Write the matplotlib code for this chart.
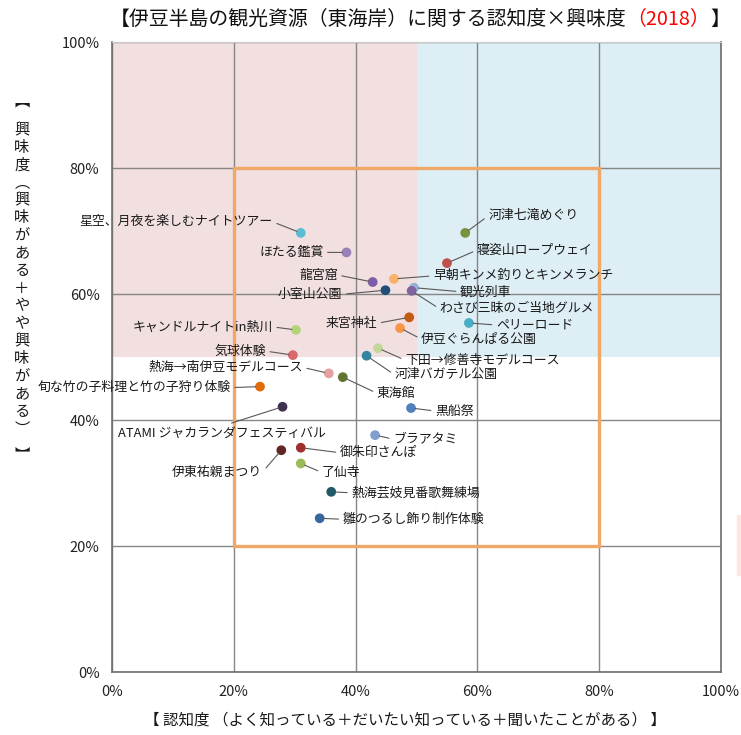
import matplotlib.pyplot as plt
from matplotlib.patches import Rectangle

plt.rcParams['font.family'] = ['Noto Sans CJK JP', 'DejaVu Sans']

# データ（認知度・興味度 %）
names = ['星空、月夜を楽しむナイトツアー', 'ほたる鑑賞', '河津七滝めぐり', '寝姿山ロープウェイ',
         '龍宮窟', '早朝キンメ釣りとキンメランチ', '小室山公園', '観光列車',
         'わさび三昧のご当地グルメ', '来宮神社', 'ペリーロード', 'キャンドルナイトin熱川',
         '伊豆ぐらんぱる公園', '気球体験', '下田→修善寺モデルコース', '河津バガテル公園',
         '熱海→南伊豆モデルコース', '東海館', '旬な竹の子料理と竹の子狩り体験',
         'ATAMI ジャカランダフェスティバル', '黒船祭', 'ブラアタミ', '伊東祐親まつり',
         '御朱印さんぽ', '了仙寺', '熱海芸妓見番歌舞練場', '雛のつるし飾り制作体験']
awareness = [31.0, 38.5, 58.0, 55.0, 42.8, 46.3, 44.9, 49.6, 49.2, 48.8, 58.6, 30.2,
             47.3, 29.7, 43.7, 41.8, 35.6, 37.9, 24.3, 28.0, 49.1, 43.2, 27.8, 31.0,
             31.0, 36.0, 34.1]
interest = [69.7, 66.6, 69.7, 64.9, 61.9, 62.4, 60.6, 61.0, 60.5, 56.3, 55.4, 54.3,
            54.6, 50.3, 51.4, 50.2, 47.4, 46.8, 45.3, 42.1, 41.9, 37.6, 35.2, 35.6,
            33.1, 28.6, 24.4]
colors = ['#5bbdd3', '#9a80b8', '#77933c', '#c0504d', '#7b5ea7', '#f9b06a', '#1f4e79',
          '#95b3d7', '#8064a2', '#c55a11', '#4bacc6', '#b3d57a', '#f79646', '#d9686a',
          '#c4d79b', '#31859c', '#e6a0a0', '#5f7530', '#e36c09', '#403152', '#4f81bd',
          '#7f9fcf', '#632523', '#a0302d', '#9bbb59', '#215967', '#3a66a0']

# ラベル位置（点からのずれ, ピクセル）
offsets = [(-28, 11, 'right'), (-23, 0, 'right'), (23, 17, 'left'), (30, 13, 'left'),
           (-35, 7, 'right'), (39, 3, 'left'), (-43, -4, 'right'), (46, -4, 'left'),
           (28, -18, 'left'), (-32, -6, 'right'), (27, -2, 'left'), (-23, 3, 'right'),
           (21, -11, 'left'), (-27, 4, 'right'), (27, -12, 'left'), (28, -19, 'left'),
           (-26, 6, 'right'), (34, -16, 'left'), (-29, -1, 'right'), (-61, -26, 'center'),
           (24, -3, 'left'), (18, -4, 'left'), (-19, -22, 'right'), (39, -5, 'left'),
           (21, -9, 'left'), (20, -1, 'left'), (23, -1, 'left')]

fig = plt.figure(figsize=(7.41, 7.35), dpi=100)
ax = fig.add_axes([112 / 741, 63 / 735, 609 / 741, 630 / 735])

# 背景
ax.add_patch(Rectangle((0, 50), 50, 50, color='#f2dfdf', zorder=0, lw=0))
ax.add_patch(Rectangle((50, 50), 50, 50, color='#ddeef5', zorder=0, lw=0))
ax.add_patch(Rectangle((20, 20), 60, 60, fill=False, edgecolor='#f0a868', lw=2.4, zorder=3))

ax.scatter(awareness, interest, s=36, c=colors, zorder=4)

for n, x, y, (dx, dy, ha) in zip(names, awareness, interest, offsets):
    rel = {'right': (1, 0.5), 'left': (0, 0.5), 'center': (0.5, 1)}[ha]
    ax.annotate(n, (x, y), xytext=(dx, dy), textcoords='offset pixels', ha=ha, va='center',
                fontsize=9.3, color='#1a1a1a', zorder=5, annotation_clip=False,
                arrowprops=dict(arrowstyle='-', color='#595959', lw=0.8, relpos=rel,
                                shrinkA=1, shrinkB=3))

ax.set_xlim(0, 100)
ax.set_ylim(0, 100)
ax.set_xticks(range(0, 101, 20))
ax.set_yticks(range(0, 101, 20))
ax.set_xticklabels([f'{v}%' for v in range(0, 101, 20)])
ax.set_yticklabels([f'{v}%' for v in range(0, 101, 20)])
ax.tick_params(length=0, labelsize=10.5, colors='#222222', pad=9)
ax.grid(True, color='#868686', lw=1, zorder=1)
ax.set_axisbelow(True)
ax.spines['top'].set_color('#c8c8c8')
for side in ['left', 'bottom', 'right']:
    ax.spines[side].set_color('#6e6e6e')
    ax.spines[side].set_linewidth(1.2)

# タイトル（2018 だけ赤）
renderer = fig.canvas.get_renderer()
parts = [('【伊豆半島の観光資源（東海岸）に関する認知度×興味度', '#111111'),
         ('（2018）', 'red'), ('】', '#111111')]
texts = [fig.text(0, 1 - 19 / 735, s, color=c, fontsize=14.3, va='center') for s, c in parts]
widths = [t.get_window_extent(renderer).width for t in texts]
xpos = 420 - sum(widths) / 2
for t, w in zip(texts, widths):
    t.set_x(xpos / 741)
    xpos += w

# 軸ラベル
fig.text(405 / 741, 1 - 720 / 735, '【 認知度 （よく知っている＋だいたい知っている＋聞いたことがある） 】',
         ha='center', va='center', fontsize=11.2, color='#1a1a1a')
# 縦書きの興味度ラベル（1文字ずつ）
ylabel = ['興', '味', '度', '︵', '興', '味', 'が', 'あ', 'る', '＋', 'や', 'や',
          '興', '味', 'が', 'あ', 'る', '︶']
step = (429 - 130) / (len(ylabel) - 1)
for i, ch in enumerate(ylabel):
    fig.text(22 / 741, 1 - (130 + i * step) / 735, ch, ha='center', va='center',
             fontsize=11, color='#1a1a1a')
fig.text(22 / 741, 1 - 101 / 735, '︻', ha='center', va='center', fontsize=11, color='#1a1a1a')
fig.text(22 / 741, 1 - 455 / 735, '︼', ha='center', va='center', fontsize=11, color='#1a1a1a')

# 右端の凡例の切れ端
fig.patches.append(Rectangle((737 / 741, 1 - 575 / 735), 4 / 741, 60 / 735,
                             color='#fde6de', transform=fig.transFigure, figure=fig))

plt.savefig('out.png', dpi=100)
